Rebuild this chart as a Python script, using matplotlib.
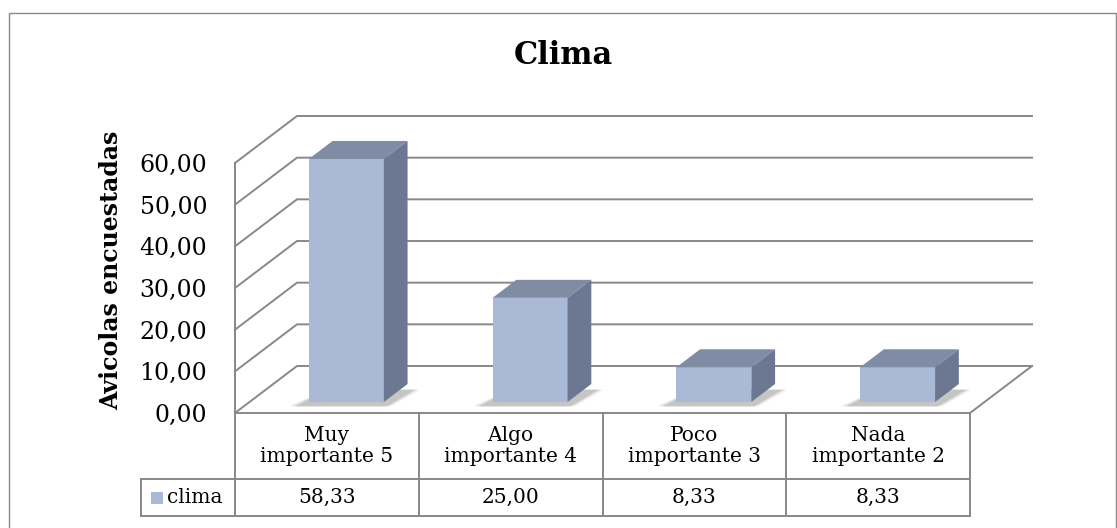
import numpy as np
import matplotlib.pyplot as plt
from matplotlib.patches import Polygon, Rectangle

title = 'Clima'
ylabel = 'Avicolas encuestadas'
series_name = 'clima'
categories = ['Muy\nimportante 5', 'Algo\nimportante 4', 'Poco\nimportante 3', 'Nada\nimportante 2']
clima = [58.33, 25.00, 8.33, 8.33]
yticks = [0, 10, 20, 30, 40, 50, 60]

plt.rcParams['font.family'] = 'DejaVu Serif'

fmt = lambda v: f'{v:.2f}'.replace('.', ',')

W, H = 1117, 528
fig = plt.figure(figsize=(W / 100, H / 100), dpi=100)

# front face of the 3d box, pixels
x0, x1 = 235, 970
yb, yt = 413, 163
ax = fig.add_axes([x0 / W, 1 - yb / H, (x1 - x0) / W, (yb - yt) / H])
ax.set_xlim(0, len(categories))
ax.set_ylim(0, yticks[-1])

sx = (x1 - x0) / len(categories)   # px per category
sy = (yb - yt) / yticks[-1]        # px per unit
dx, dy = 62 / sx, 47 / sy          # depth vector in data units

proj = lambda x, y, d: (x + d * dx, y + d * dy)

grid_c = '#888888'
front_c, top_c, side_c = '#a9b9d6', '#808ca3', '#6c7891'
n = len(categories)

# walls: gridlines on side and back wall
for v in yticks:
    pts = [proj(0, v, 0), proj(0, v, 1), proj(n, v, 1)]
    ax.plot([p[0] for p in pts], [p[1] for p in pts], color=grid_c, lw=1.4,
            clip_on=False, zorder=1, solid_joinstyle='miter')
# floor right edge
p, q = proj(n, 0, 0), proj(n, 0, 1)
ax.plot([p[0], q[0]], [p[1], q[1]], color=grid_c, lw=1.4, clip_on=False, zorder=1)

# bars
w, f0, f1, off = 0.408, 0.234, 0.617, 0.527
for i, v in enumerate(clima):
    c = i + off
    l, r = c - w / 2, c + w / 2
    # soft shadow, darker towards the bar
    for k, a in enumerate([0.08, 0.12, 0.18]):
        e = 0.04 - k * 0.015
        sh = [proj(l - 0.06 - e, -0.7 - k * 0.1, f0 - 0.02), proj(r + 0.01 + e, -0.7 - k * 0.1, f0 - 0.02),
              proj(r + 0.07 + e, 0, f1 - 0.12), proj(l + 0.01, 0, f1 - 0.12)]
        ax.add_patch(Polygon(sh, closed=True, fc='#555555', ec='none', alpha=a,
                             clip_on=False, zorder=2))
    front = [proj(l, 0, f0), proj(r, 0, f0), proj(r, v, f0), proj(l, v, f0)]
    top = [proj(l, v, f0), proj(r, v, f0), proj(r, v, f1), proj(l, v, f1)]
    side = [proj(r, 0, f0), proj(r, 0, f1), proj(r, v, f1), proj(r, v, f0)]
    for poly, col in [(front, front_c), (top, top_c), (side, side_c)]:
        ax.add_patch(Polygon(poly, closed=True, fc=col, ec='none', clip_on=False, zorder=3))

# axes look
for s in ['top', 'right']:
    ax.spines[s].set_visible(False)
for s in ['left', 'bottom']:
    ax.spines[s].set_color(grid_c)
    ax.spines[s].set_linewidth(1.4)
ax.set_xticks([])
ax.set_yticks(yticks)
ax.set_yticklabels([fmt(t) for t in yticks])
ax.tick_params(axis='y', length=0, pad=20, labelsize=17)
ax.patch.set_alpha(0)

# data table
h1, h2 = -66 / sy, -103 / sy
xl = (141 - x0) / sx
tbl = dict(color=grid_c, lw=1.4, clip_on=False, zorder=4)
for i in range(n + 1):
    ax.plot([i, i], [0, h2], **tbl)
ax.plot([xl, n], [h1, h1], **tbl)
ax.plot([xl, n], [h2, h2], **tbl)
ax.plot([xl, xl], [h1, h2], **tbl)
for i, (cat, v) in enumerate(zip(categories, clima)):
    ax.text(i + 0.5, h1 / 2, cat, ha='center', va='center', fontsize=14.5, linespacing=1.15)
    ax.text(i + 0.5, (h1 + h2) / 2, fmt(v), ha='center', va='center', fontsize=14.5)
ax.add_patch(Rectangle(((151 - x0) / sx, (yb - 504) / sy), 12 / sx, 12 / sy,
                       fc=front_c, ec='none', clip_on=False))
ax.text((167 - x0) / sx, (h1 + h2) / 2, series_name, ha='left', va='center', fontsize=14.5)

# title, y label, outer border
fig.text(563 / W, 1 - 55 / H, title, ha='center', va='center', fontsize=22, fontweight='bold')
fig.text(111 / W, 1 - 270 / H, ylabel, rotation=90, ha='center', va='center',
         fontsize=17, fontweight='bold')
fig.add_artist(Rectangle((9.5 / W, -0.01), (1116 - 9.5) / W, (H - 13) / H + 0.01,
                         transform=fig.transFigure, fill=False, ec=grid_c, lw=1))

fig.savefig('out.png', dpi=100)
